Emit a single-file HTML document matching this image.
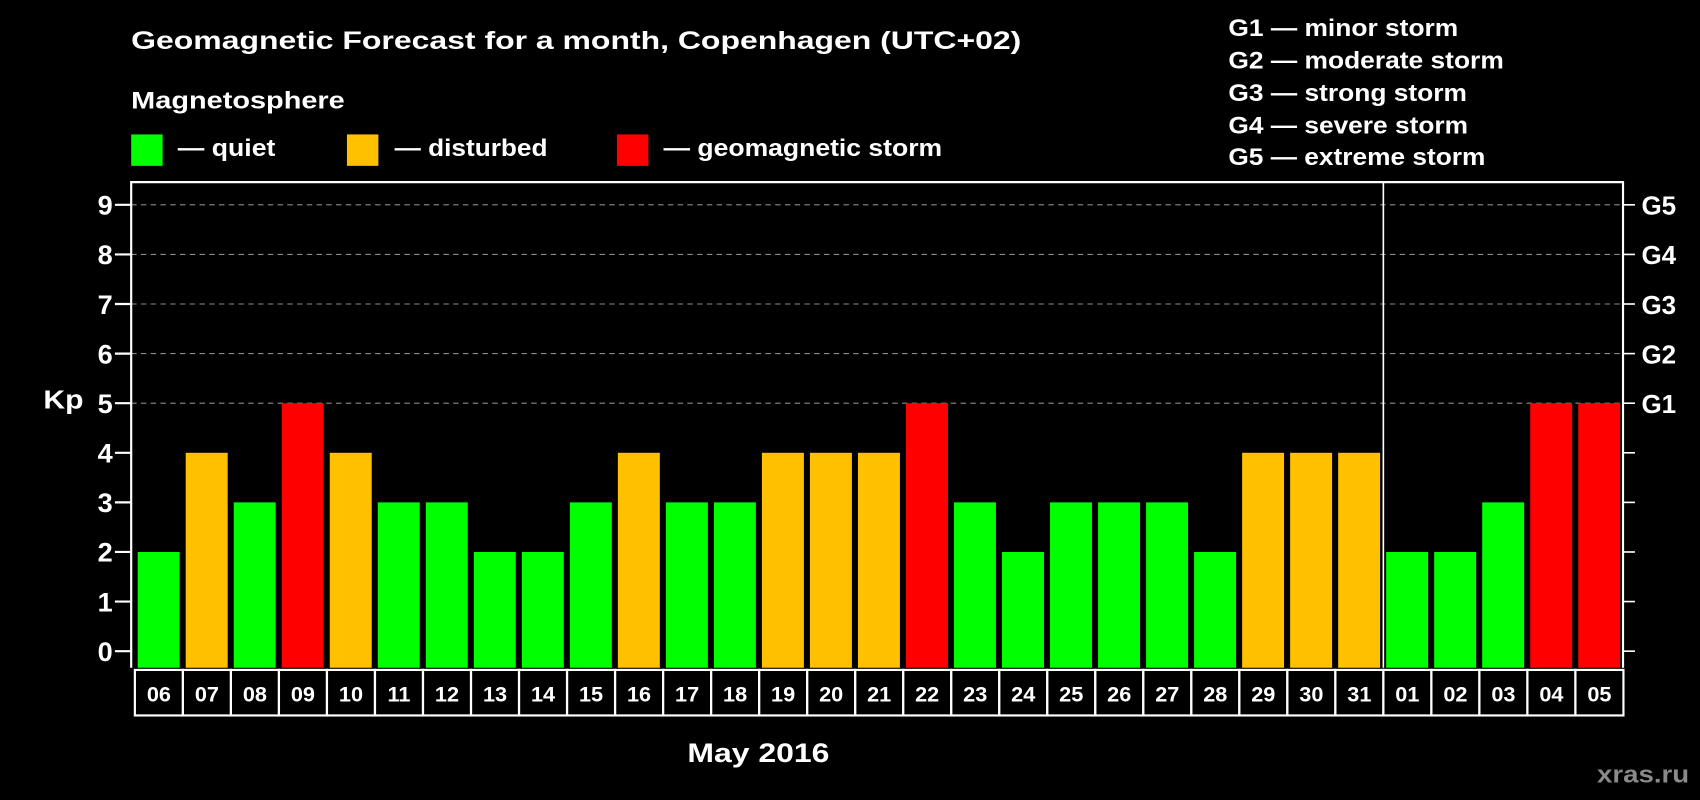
<!DOCTYPE html>
<html><head><meta charset="utf-8"><style>
html,body{margin:0;padding:0;background:#000;}
svg{display:block;font-family:"Liberation Sans",sans-serif;font-weight:bold;}
</style></head><body>
<svg id="chart" width="1700" height="800" viewBox="0 0 1568 738" preserveAspectRatio="none">
<rect width="1568" height="738" fill="#000"/>
<text x="121" y="45" fill="#fff" font-size="23" textLength="821" lengthAdjust="spacingAndGlyphs">Geomagnetic Forecast for a month, Copenhagen (UTC+02)</text>
<text x="121" y="100" fill="#fff" font-size="22" textLength="197" lengthAdjust="spacingAndGlyphs">Magnetosphere</text>
<rect x="121" y="124" width="29" height="29" fill="#00ff00"/>
<text x="164" y="144" fill="#fff" font-size="22" textLength="90" lengthAdjust="spacingAndGlyphs">— quiet</text>
<rect x="320" y="124" width="29" height="29" fill="#ffc000"/>
<text x="364" y="144" fill="#fff" font-size="22" textLength="141" lengthAdjust="spacingAndGlyphs">— disturbed</text>
<rect x="569" y="124" width="29" height="29" fill="#ff0000"/>
<text x="612" y="144" fill="#fff" font-size="22" textLength="257" lengthAdjust="spacingAndGlyphs">— geomagnetic storm</text>
<g fill="#fff" font-size="22">
<text x="1133" y="33" textLength="212" lengthAdjust="spacingAndGlyphs">G1 — minor storm</text>
<text x="1133" y="63" textLength="254" lengthAdjust="spacingAndGlyphs">G2 — moderate storm</text>
<text x="1133" y="93" textLength="220" lengthAdjust="spacingAndGlyphs">G3 — strong storm</text>
<text x="1133" y="123" textLength="221" lengthAdjust="spacingAndGlyphs">G4 — severe storm</text>
<text x="1133" y="152" textLength="237" lengthAdjust="spacingAndGlyphs">G5 — extreme storm</text>
</g>
<text x="40" y="377" fill="#fff" font-size="24" textLength="37" lengthAdjust="spacingAndGlyphs">Kp</text>
<text x="634" y="703" fill="#fff" font-size="25" textLength="131" lengthAdjust="spacingAndGlyphs">May 2016</text>
<text x="1473" y="722" fill="#8a8a8a" font-size="22" textLength="85" lengthAdjust="spacingAndGlyphs">xras.ru</text>
<g id="grid"></g>
<g id="bars"></g>
<g id="frame"></g>
<g id="cells"></g>
<g id="yticks"></g>
</svg>
<script>
const categories=["06","07","08","09","10","11","12","13","14","15","16","17","18","19","20","21","22","23","24","25","26","27","28","29","30","31","01","02","03","04","05"];
const kpValues=[2,4,3,5,4,3,3,2,2,3,4,3,3,4,4,4,5,3,2,3,3,3,2,4,4,4,2,2,3,5,5];
const yTicks=[0,1,2,3,4,5,6,7,8,9];
const gLabels=["G1","G2","G3","G4","G5"];
const gLevels=[5,6,7,8,9];
const monthBreakIndex=26;

const NS="http://www.w3.org/2000/svg";
const L=121,R=1497,T=168,B=616;
const x0=124.4,pitch=44.29,bw=38.7;
function y(v){return 600.7-v*45.75;}
function xs(i){return x0+i*pitch;}
function mk(tag,attrs,parent){const e=document.createElementNS(NS,tag);for(const k in attrs)e.setAttribute(k,attrs[k]);parent.appendChild(e);return e;}
function color(v){return v>=5?"#ff0000":(v>=4?"#ffc000":"#00ff00");}

const grid=document.getElementById('grid');
gLevels.forEach(v=>{
  const l=mk('line',{x1:L,x2:R,y1:y(v),y2:y(v),stroke:'#8c8c8c','stroke-width':1,'stroke-dasharray':'5,4'},grid);
  
  
});

const bars=document.getElementById('bars');
kpValues.forEach((v,i)=>{
  const r=mk('rect',{x:xs(i)+2.6,y:y(v),width:bw,height:B-y(v),fill:color(v)},bars);
  
  
});

const frame=document.getElementById('frame');
const fr=mk('path',{d:`M${L} ${B} V${T} H${R} V${B}`,stroke:'#fff','stroke-width':2,fill:'none'},frame);


const sep=mk('line',{x1:xs(monthBreakIndex),x2:xs(monthBreakIndex),y1:T,y2:B,stroke:'#fff','stroke-width':1.5},frame);



const cells=document.getElementById('cells');
categories.forEach((c,i)=>{
  const r=mk('rect',{x:xs(i),y:618,width:pitch,height:42,fill:'none',stroke:'#fff','stroke-width':2},cells);
  
  
  const t=mk('text',{x:xs(i)+pitch/2,y:647,fill:'#fff','font-size':20,'text-anchor':'middle'},cells);
  t.textContent=c;
  
  
});

const yt=document.getElementById('yticks');
yTicks.forEach(v=>{
  const a=mk('line',{x1:106,x2:L,y1:y(v),y2:y(v),stroke:'#fff','stroke-width':2},yt);
  
  
  const b=mk('line',{x1:R,x2:1508,y1:y(v),y2:y(v),stroke:'#fff','stroke-width':1.5},yt);
  
  
  const t=mk('text',{x:104,y:y(v)+9,fill:'#fff','font-size':25,'text-anchor':'end'},yt);
  t.textContent=v;
  
  
});
gLevels.forEach((v,i)=>{
  const t=mk('text',{x:1514,y:y(v)+9,fill:'#fff','font-size':24},yt);
  t.textContent=gLabels[i];
  
  
});
</script>
</body></html>
